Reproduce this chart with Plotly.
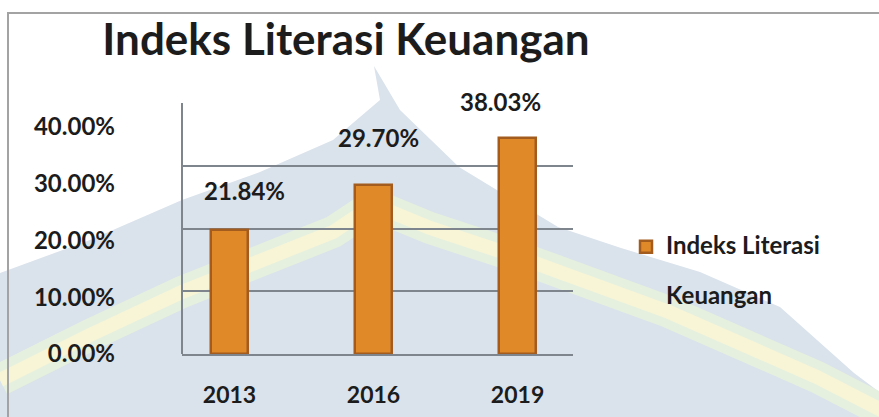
import plotly.graph_objects as go

# ---- data ----
years = ["2013", "2016", "2019"]
values = [21.84, 29.70, 38.03]
y_ticks = [0, 10, 20, 30, 40]
y_tick_labels = ["0.00%", "10.00%", "20.00%", "30.00%", "40.00%"]
title_text = "Indeks Literasi Keuangan"
legend_lines = ["Indeks Literasi", "Keuangan"]

# ---- style ----
FONT = "Lato"
TXT = "#1c1c1c"
BAR = "#E08929"
BAR_EDGE = "#A35C1E"
GRID = "#7E858D"
W, H = 879, 417
L, R, B = 182, 573, 354       # plot area left/right/bottom in px
AXIS_TOP = 103                # px where the value axis ends
PT = 20                       # px top of the (invisible) plotting region
Y_MAX = 44.2                  # value at the top of the drawn axis
X_RANGE = [-0.33, 2.385]
GRID_STEP = 11.05
LABEL_SHIFT = [(15, 36), (5, 44), (-17, 33)]  # (x, y) px offsets of value labels

PX_PER_Y = (B - AXIS_TOP) / Y_MAX
Y_TOP = (B - PT) / PX_PER_Y
PX_PER_CAT = (R - L) / (X_RANGE[1] - X_RANGE[0])


def P(x, y):
    """pixel -> paper coordinates"""
    return (x - L) / (R - L), (B - y) / (B - PT)


def path(pts, close=True):
    s = ""
    for i, (x, y) in enumerate(pts):
        px, py = P(x, y)
        s += ("M" if i == 0 else "L") + f"{px:.4f},{py:.4f} "
    return s + ("Z" if close else "")


fig = go.Figure()
fig.add_trace(go.Bar(
    x=years, y=values,
    name="<br><br>".join(f"<span style='font-size:24px'>{s}</span>" for s in legend_lines),
    width=0.257,
    marker=dict(color=BAR, line=dict(color=BAR_EDGE, width=2.5)),
    showlegend=True, hoverinfo="skip",
))
# invisible trace on the overlay axis that carries the gridlines
fig.add_trace(go.Scatter(x=years, y=[None] * len(years), yaxis="y2",
                         showlegend=False, hoverinfo="skip"))
# value labels (text trace on a linear twin of the category axis)
fig.add_trace(go.Scatter(
    x=[i + LABEL_SHIFT[i][0] / PX_PER_CAT for i in range(len(years))],
    y=[v + LABEL_SHIFT[i][1] / PX_PER_Y for i, v in enumerate(values)],
    xaxis="x2", yaxis="y", mode="text",
    text=[f"{v:.2f}%" for v in values], textposition="middle center",
    textfont=dict(family=FONT, size=24, color=TXT, weight="bold"),
    showlegend=False, hoverinfo="skip", cliponaxis=False,
))

# watermark approximation (background)
shapes = []
arch = [(374, 66), (380, 100), (333, 140), (260, 172), (182, 200), (90, 240), (0, 273),
        (0, 430), (890, 430), (890, 400), (854, 373), (780, 307), (700, 272),
        (621, 248), (558, 227), (459, 167), (400, 110)]
shapes.append(dict(type="path", xref="paper", yref="paper", layer="below",
                   path=path(arch), fillcolor="#DAE2EB", line=dict(width=0)))
band = [(0, 380), (90, 335), (182, 292), (333, 232), (374, 205), (430, 228),
        (521, 258), (669, 312), (817, 377), (885, 412)]
shapes.append(dict(type="path", xref="paper", yref="paper", layer="below",
                   path=path(band, close=False), fillcolor="rgba(0,0,0,0)",
                   line=dict(color="rgba(230,240,222,1)", width=32)))
shapes.append(dict(type="path", xref="paper", yref="paper", layer="below",
                   path=path(band, close=False), fillcolor="rgba(0,0,0,0)",
                   line=dict(color="rgba(248,245,215,1)", width=14)))
# outer frame
fx0, fy1 = P(8, 13)
fx1, fy0 = P(900, 430)
shapes.append(dict(type="rect", xref="paper", yref="paper", layer="below",
                   x0=fx0, x1=fx1, y0=fy0, y1=fy1,
                   line=dict(color="#A3A3A3", width=2), fillcolor="rgba(0,0,0,0)"))
# value axis line (ends at Y_MAX)
shapes.append(dict(type="line", xref="x domain", yref="y", x0=0, x1=0, y0=0, y1=Y_MAX,
                   line=dict(color=GRID, width=2), layer="above"))

fig.update_layout(
    width=W, height=H,
    margin=dict(l=L, r=W - R, t=PT, b=H - B, pad=0, autoexpand=False),
    paper_bgcolor="white", plot_bgcolor="rgba(0,0,0,0)",
    shapes=shapes,
    title=dict(text=title_text, x=346 / W, xanchor="center", xref="container",
               y=1 - 40 / H, yanchor="middle", yref="container",
               font=dict(family=FONT, size=44, color=TXT, weight="bold")),
    xaxis=dict(type="category", range=X_RANGE, showgrid=False, automargin=False,
               showline=True, linecolor=GRID, linewidth=2, ticks="",
               ticklabelstandoff=19,
               tickfont=dict(family=FONT, size=23, color=TXT, weight="bold")),
    xaxis2=dict(overlaying="x", range=X_RANGE, visible=False, automargin=False),
    yaxis=dict(range=[0, Y_TOP], tickvals=y_ticks, ticktext=y_tick_labels,
               showgrid=False, zeroline=False, showline=False,
               ticks="", ticklabelstandoff=66, automargin=False,
               tickfont=dict(family=FONT, size=24, color=TXT, weight="bold")),
    yaxis2=dict(overlaying="y", range=[0, Y_TOP], automargin=False,
                tickvals=[GRID_STEP * k for k in (1, 2, 3)],
                showticklabels=False, showgrid=True, gridcolor=GRID, gridwidth=2,
                zeroline=False, showline=False, ticks="", side="right"),
    legend=dict(xref="container", yref="container", x=626 / W, xanchor="left",
                y=1 - 228 / H, yanchor="top", valign="top",
                bgcolor="rgba(0,0,0,0)",
                font=dict(family=FONT, size=19, color=TXT, weight="bold")),
    bargap=0,
)

fig.write_html("out.html", config={"displayModeBar": False},
               post_script="document.body.style.margin='0';")
